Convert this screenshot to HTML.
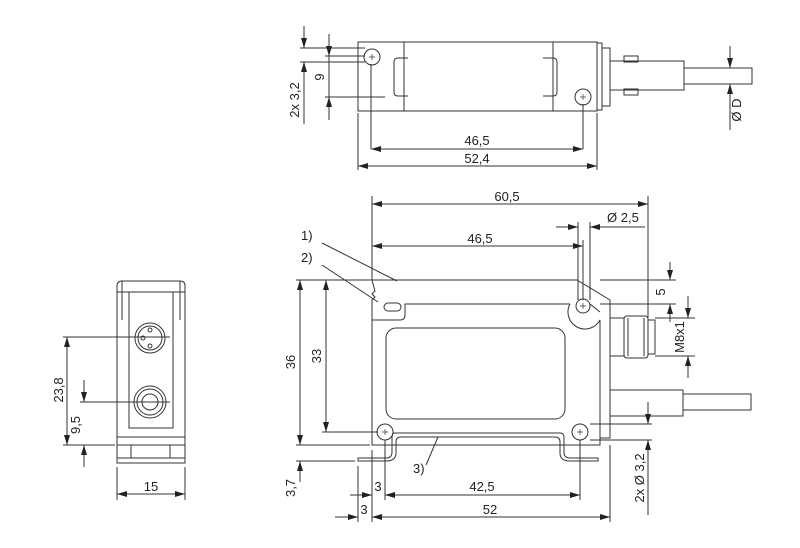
<!DOCTYPE html>
<html><head><meta charset="utf-8"><style>html,body{margin:0;padding:0;background:#fff}svg{display:block}</style></head>
<body>
<svg width="800" height="548" viewBox="0 0 800 548" xmlns="http://www.w3.org/2000/svg" font-family="Liberation Sans, sans-serif" font-size="13" fill="#222">
<defs>
<marker id="a" viewBox="0 0 10 6" refX="10" refY="3" markerWidth="10" markerHeight="6" orient="auto-start-reverse" markerUnits="userSpaceOnUse"><path d="M0,0L10,3L0,6z" fill="#222"/></marker>
</defs>
<g fill="none" stroke="#333" stroke-width="1">
<!-- TOP VIEW -->
<rect x="358" y="42" width="239" height="69"/>
<rect x="597" y="43" width="5" height="67"/>
<rect x="602" y="48" width="8" height="58"/>
<line x1="404" y1="42" x2="404" y2="111"/><line x1="553" y1="42" x2="553" y2="111"/>
<circle cx="372" cy="57" r="8"/><circle cx="583" cy="97" r="8"/>
<path d="M369,57h6M372,54v6M580,97h6M583,94v6" stroke-width="0.7"/>
<path d="M408,58h-10q-4,0 -4,4v30q0,4 4,4h10"/>
<path d="M543,58h10q4,0 4,4v30q0,4 -4,4h-10"/>
<rect x="610" y="61" width="74" height="29"/>
<rect x="624" y="56" width="14" height="6"/><rect x="624" y="89" width="14" height="6"/>
<rect x="684" y="68" width="68" height="16"/>
<line x1="371" y1="64" x2="371" y2="149"/><line x1="583" y1="104" x2="583" y2="149"/>
<line x1="358" y1="113" x2="358" y2="170"/><line x1="597" y1="113" x2="597" y2="170"/>
<line x1="371" y1="149" x2="583" y2="149" marker-start="url(#a)" marker-end="url(#a)"/>
<line x1="358" y1="166" x2="597" y2="166" marker-start="url(#a)" marker-end="url(#a)"/>
<line x1="300" y1="48" x2="365" y2="48"/><line x1="300" y1="62" x2="365" y2="62"/>
<line x1="325" y1="56" x2="365" y2="56"/><line x1="325" y1="97" x2="385" y2="97"/>
<line x1="304" y1="26" x2="304" y2="48" marker-end="url(#a)"/><line x1="304" y1="124" x2="304" y2="62" marker-end="url(#a)"/>
<line x1="329" y1="34" x2="329" y2="120"/>
<line x1="329" y1="48" x2="329" y2="56" marker-end="url(#a)"/><line x1="329" y1="110" x2="329" y2="97" marker-end="url(#a)"/>
<line x1="730" y1="46" x2="730" y2="68" marker-end="url(#a)"/><line x1="730" y1="130" x2="730" y2="84" marker-end="url(#a)"/>
<line x1="684" y1="68" x2="735" y2="68"/><line x1="684" y1="84" x2="735" y2="84"/>
<!-- FRONT VIEW -->
<path d="M372,280H577L610,300V438H600V445H372V300l3,-3l-3,-3l3,-3z"/>
<path d="M372,320H400q5,0 5,-5V304H570"/>
<path d="M570,304a15,15 0 0 0 30,16H600V438"/>
<path d="M590,304L600,312"/>
<circle cx="583" cy="306" r="7"/>
<path d="M580,306h6M583,303v6M382,432h6M385,429v6M577,432h6M580,429v6" stroke-width="0.7"/>
<rect x="384" y="303" width="17" height="8" rx="4"/>
<rect x="386" y="328" width="179" height="91" rx="10"/>
<circle cx="385" cy="432" r="8"/><circle cx="580" cy="432" r="8"/>
<path d="M395,433H560q4,0 4,4V452q0,6 6,6H598V461H570q-10,0 -10,-8V442q0,-5 -5,-5H401q-5,0 -5,5V453q0,8 -10,8H358V458H386q6,0 6,-6V437q0,-4 3,-4z"/>
<rect x="610" y="318" width="14" height="38"/>
<rect x="624" y="316" width="24" height="42" rx="3"/>
<line x1="628" y1="318" x2="628" y2="356"/><line x1="644" y1="318" x2="644" y2="356"/>
<rect x="648" y="320" width="7" height="34"/>
<rect x="610" y="390" width="73" height="26"/>
<rect x="683" y="394" width="68" height="16"/>
<!-- dims front -->
<line x1="372" y1="196" x2="372" y2="280"/><line x1="648" y1="196" x2="648" y2="318"/>
<line x1="372" y1="204" x2="648" y2="204" marker-start="url(#a)" marker-end="url(#a)"/>
<line x1="583" y1="240" x2="583" y2="300"/>
<line x1="372" y1="246" x2="583" y2="246" marker-start="url(#a)" marker-end="url(#a)"/>
<line x1="578" y1="222" x2="578" y2="300"/><line x1="590" y1="222" x2="590" y2="300"/>
<line x1="556" y1="227" x2="578" y2="227" marker-end="url(#a)"/><line x1="645" y1="227" x2="590" y2="227" marker-end="url(#a)"/>
<line x1="600" y1="280" x2="676" y2="280"/><line x1="600" y1="304" x2="676" y2="304"/>
<line x1="670" y1="262" x2="670" y2="280" marker-end="url(#a)"/><line x1="670" y1="322" x2="670" y2="304" marker-end="url(#a)"/>
<line x1="655" y1="318" x2="695" y2="318"/><line x1="655" y1="356" x2="695" y2="356"/>
<line x1="688" y1="296" x2="688" y2="318" marker-end="url(#a)"/><line x1="688" y1="378" x2="688" y2="356" marker-end="url(#a)"/>
<line x1="296" y1="280" x2="372" y2="280"/><line x1="322" y1="432" x2="378" y2="432"/>
<line x1="296" y1="445" x2="370" y2="445"/><line x1="296" y1="461" x2="355" y2="461"/>
<line x1="300" y1="280" x2="300" y2="445" marker-start="url(#a)" marker-end="url(#a)"/>
<line x1="326" y1="280" x2="326" y2="432" marker-start="url(#a)" marker-end="url(#a)"/>
<line x1="300" y1="482" x2="300" y2="461" marker-end="url(#a)"/>
<line x1="358" y1="466" x2="358" y2="522"/><line x1="372" y1="450" x2="372" y2="522"/>
<line x1="385" y1="440" x2="385" y2="500"/><line x1="580" y1="440" x2="580" y2="500"/>
<line x1="610" y1="445" x2="610" y2="522"/>
<line x1="350" y1="495" x2="372" y2="495" marker-end="url(#a)"/>
<line x1="385" y1="495" x2="580" y2="495" marker-start="url(#a)" marker-end="url(#a)"/>
<line x1="335" y1="517" x2="358" y2="517" marker-end="url(#a)"/>
<line x1="372" y1="517" x2="610" y2="517" marker-start="url(#a)" marker-end="url(#a)"/>
<line x1="590" y1="424" x2="652" y2="424"/><line x1="590" y1="440" x2="652" y2="440"/>
<line x1="648" y1="402" x2="648" y2="424" marker-end="url(#a)"/><line x1="648" y1="515" x2="648" y2="440" marker-end="url(#a)"/>
<line x1="322" y1="243" x2="397" y2="281"/><line x1="322" y1="265" x2="378" y2="302"/>
<line x1="426" y1="465" x2="438" y2="437"/>
<!-- SIDE VIEW -->
<path d="M117,463V286q0,-5 5,-5H180q5,0 5,5V463z"/>
<line x1="122" y1="281" x2="122" y2="320"/><line x1="180" y1="281" x2="180" y2="320"/>
<line x1="117" y1="292" x2="185" y2="292"/>
<rect x="129" y="292" width="44" height="136"/>
<line x1="117" y1="437" x2="185" y2="437"/>
<line x1="117" y1="445" x2="185" y2="445"/><line x1="117" y1="458" x2="185" y2="458"/>
<line x1="131" y1="445" x2="131" y2="458"/><line x1="170" y1="445" x2="170" y2="458"/>
<circle cx="150" cy="338" r="15"/><circle cx="150" cy="338" r="12"/>
<circle cx="150" cy="330" r="2"/><circle cx="143" cy="338" r="2"/><circle cx="150" cy="346" r="2"/>
<circle cx="150" cy="402" r="16"/><circle cx="150" cy="402" r="13"/><circle cx="150" cy="402" r="8"/>
<line x1="63" y1="337" x2="170" y2="337"/><line x1="80" y1="402" x2="170" y2="402"/>
<line x1="63" y1="445" x2="115" y2="445"/>
<line x1="67" y1="337" x2="67" y2="445" marker-start="url(#a)" marker-end="url(#a)"/>
<line x1="84" y1="380" x2="84" y2="402" marker-end="url(#a)"/><line x1="84" y1="467" x2="84" y2="445" marker-end="url(#a)"/>
<line x1="117" y1="467" x2="117" y2="500"/><line x1="185" y1="467" x2="185" y2="500"/>
<line x1="117" y1="494" x2="185" y2="494" marker-start="url(#a)" marker-end="url(#a)"/>
</g>
<g>
<text x="477" y="145" text-anchor="middle">46,5</text>
<text x="477" y="163" text-anchor="middle">52,4</text>
<text transform="translate(299,100) rotate(-90)" text-anchor="middle">2x 3,2</text>
<text transform="translate(324,77) rotate(-90)" text-anchor="middle">9</text>
<text transform="translate(741,110) rotate(-90)" text-anchor="middle">Ø D</text>
<text x="507" y="201" text-anchor="middle">60,5</text>
<text x="480" y="243" text-anchor="middle">46,5</text>
<text x="607" y="222">Ø 2,5</text>
<text x="301" y="240">1)</text><text x="301" y="262">2)</text><text x="413" y="473">3)</text>
<text transform="translate(665,292) rotate(-90)" text-anchor="middle">5</text>
<text transform="translate(684,337) rotate(-90)" text-anchor="middle">M8x1</text>
<text transform="translate(295,362) rotate(-90)" text-anchor="middle">36</text>
<text transform="translate(321,356) rotate(-90)" text-anchor="middle">33</text>
<text transform="translate(295,488) rotate(-90)" text-anchor="middle">3,7</text>
<text x="378" y="491" text-anchor="middle">3</text>
<text x="364" y="514" text-anchor="middle">3</text>
<text x="482" y="491" text-anchor="middle">42,5</text>
<text x="490" y="514" text-anchor="middle">52</text>
<text transform="translate(644,478) rotate(-90)" text-anchor="middle">2x Ø 3,2</text>
<text transform="translate(63,390) rotate(-90)" text-anchor="middle">23,8</text>
<text transform="translate(80,425) rotate(-90)" text-anchor="middle">9,5</text>
<text x="151" y="491" text-anchor="middle">15</text>
</g>
</svg>
</body></html>
